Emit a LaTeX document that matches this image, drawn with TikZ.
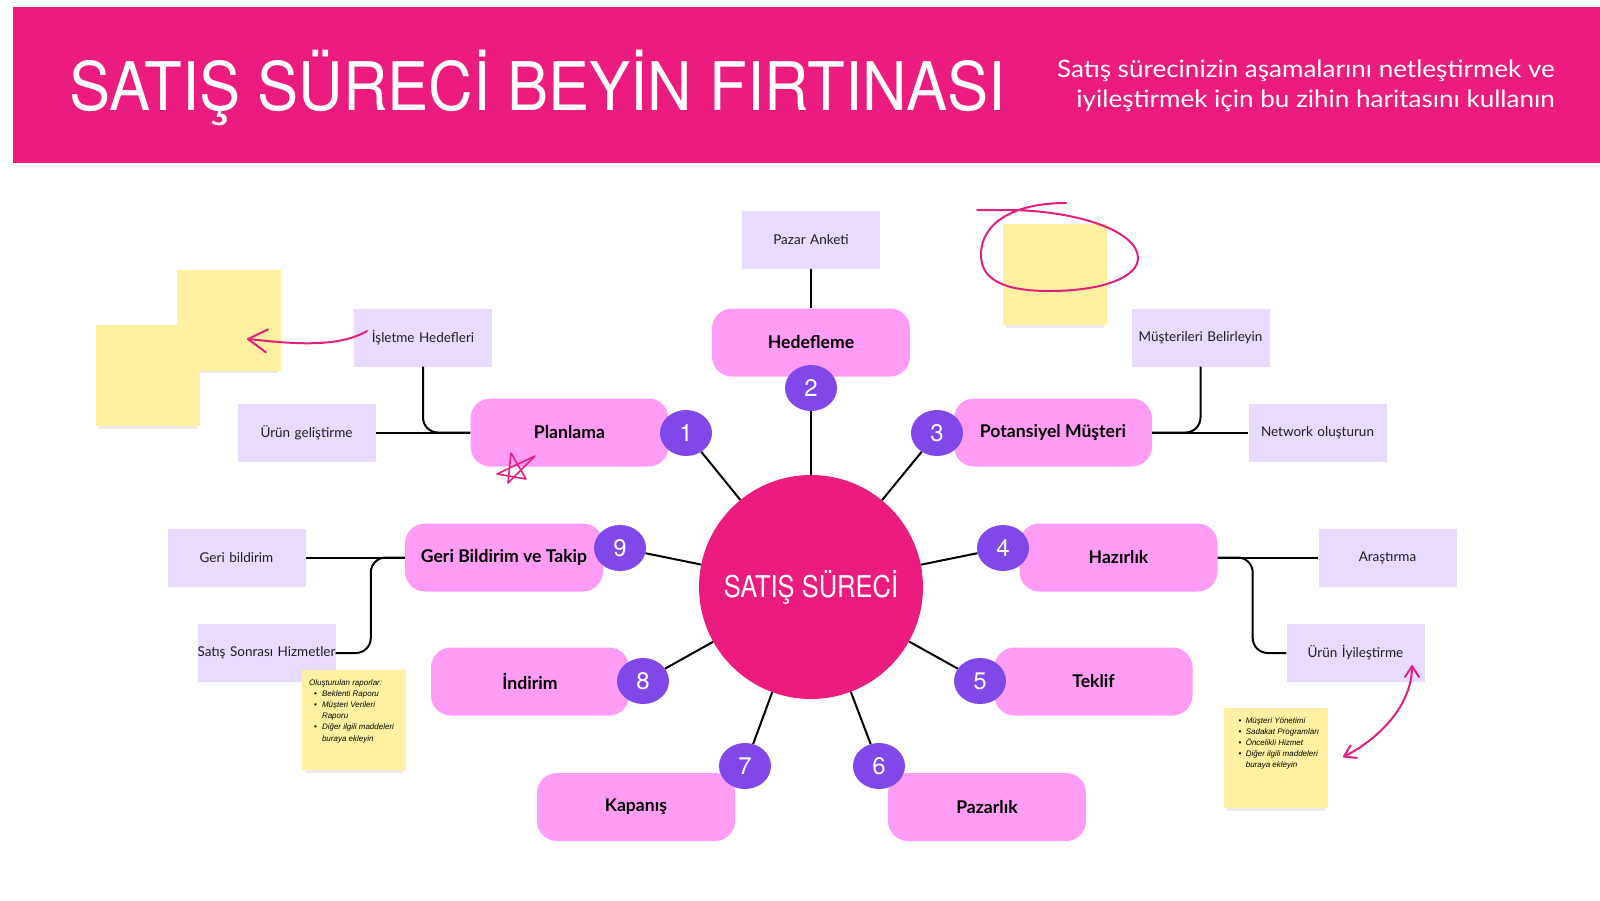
\documentclass[tikz,border=0pt]{standalone}
\usepackage{fontspec}
\setmainfont{Lato}
\newfontfamily\techfont{TeX Gyre Heros}
\newfontfamily\notefont{Liberation Sans}
\usetikzlibrary{shapes.geometric,arrows.meta,calc}
\definecolor{bannerpink}{RGB}{236,28,127}
\definecolor{stagepink}{RGB}{255,156,245}
\definecolor{numpurple}{RGB}{128,72,232}
\definecolor{lavbox}{RGB}{233,219,255}
\definecolor{stickyyellow}{RGB}{255,241,161}
\definecolor{scrib}{RGB}{226,32,128}
\definecolor{textdark}{RGB}{30,30,35}
\definecolor{shadowgray}{RGB}{236,236,236}
\begin{document}
\begin{tikzpicture}[x=1pt,y=-1pt,
  stagebox/.style={rectangle, rounded corners=20pt, fill=stagepink, minimum width=198pt, minimum height=68pt, inner sep=0, font=\bfseries\fontsize{17.6}{20}\selectfont, text=black},
  numbub/.style={ellipse, fill=numpurple, minimum width=52pt, minimum height=46pt, inner sep=0, text=white, font=\techfont\fontsize{24}{24}\selectfont},
  subbox/.style={rectangle, fill=lavbox, minimum width=138pt, minimum height=58pt, text width=138pt, align=center, inner sep=0, font=\fontsize{13.5}{16}\selectfont, text=textdark},
  conn/.style={draw=black, line width=2pt},
  branch/.style={conn, rounded corners=15pt},
  sticky/.style={fill=stickyyellow, inner sep=0, minimum width=104pt, minimum height=101pt},
  scribble/.style={draw=scrib, line width=2pt, line cap=round, line join=round},
  notetext/.style={anchor=north west, inner sep=0, align=left, text=black, font=\notefont\itshape\fontsize{8}{11.2}\selectfont}
]
\useasboundingbox (0,0) rectangle (1600,900);
\fill[white] (0,0) rectangle (1600,900);

% banner
\fill[bannerpink] (13,7) rectangle (1600,163);
\node[anchor=base west, inner sep=0, text=white, font=\techfont\fontsize{67}{67}\selectfont] (title) at (69,110) {\scalebox{0.92}[1]{SATIŞ SÜRECİ BEYİN FIRTINASI}};
\node[anchor=base east, inner sep=0, text=white, font=\fontsize{24}{28}\selectfont] (subtitle1) at (1555,77) {\scalebox{1.085}[1]{Satış sürecinizin aşamalarını netleştirmek ve}};
\node[anchor=base east, inner sep=0, text=white, font=\fontsize{24}{28}\selectfont] (subtitle2) at (1555,107) {\scalebox{1.085}[1]{iyileştirmek için bu zihin haritasını kullanın}};

% sticky notes (top)
\fill[shadowgray] (180,370) rectangle (278,373);
\node[sticky] (stickyA) at (229,320.5) {};
\fill[shadowgray] (99,426) rectangle (197,429);
\node[sticky] (stickyB) at (148,375.5) {};
\fill[shadowgray] (1006,325) rectangle (1104,328);
\node[sticky] (stickyC) at (1055,274.5) {};

% center
\node[circle, fill=bannerpink, minimum size=224pt, inner sep=0, text=white, font=\techfont\fontsize{30}{30}\selectfont] (center) at (811,587) {\scalebox{0.85}[1]{SATIŞ SÜRECİ}};

% stage boxes
\node[stagebox] (planlama) at (569.5,432.5) {Planlama};
\node[stagebox] (hedef) at (811,342.5) {Hedefleme};
\node[stagebox] (potansiyel) at (1053,432.5) {Potansiyel Müşteri};
\node[stagebox] (hazirlik) at (1118.5,557.5) {Hazırlık};
\node[stagebox] (teklif) at (1093.5,681.5) {Teklif};
\node[stagebox] (pazarlik) at (987,807) {Pazarlık};
\node[stagebox] (kapanis) at (636,807) {Kapanış};
\node[stagebox] (indirim) at (530,681.5) {İndirim};
\node[stagebox] (geri) at (504,557.5) {Geri Bildirim ve Takip};

% number bubbles
\node[numbub] (n1) at (686,433) {1};
\node[numbub] (n2) at (811,388) {2};
\node[numbub] (n3) at (937,433) {3};
\node[numbub] (n4) at (1003,548) {4};
\node[numbub] (n5) at (980,681) {5};
\node[numbub] (n6) at (879,766) {6};
\node[numbub] (n7) at (745,766) {7};
\node[numbub] (n8) at (643,681) {8};
\node[numbub] (n9) at (620,548) {9};

% sub boxes
\node[subbox] (pazar) at (811,240) {Pazar Anketi};
\node[subbox] (isletme) at (423,337.5) {İşletme Hedefleri};
\node[subbox] (urungel) at (306.5,432.5) {Ürün geliştirme};
\node[subbox] (musbel) at (1200.5,337.5) {Müşterileri Belirleyin};
\node[subbox] (network) at (1317.5,432.5) {Network oluşturun};
\node[subbox] (arastirma) at (1387.5,557.5) {Araştırma};
\node[subbox] (uriy) at (1355.5,653) {Ürün İyileştirme};
\node[subbox] (geribil) at (236.5,557.5) {Geri bildirim};
\node[subbox] (satis) at (266.5,653) {\mbox{Satış Sonrası Hizmetler}};

% notes with text (on top of the boxes)
\fill[shadowgray] (305,770) rectangle (403,773);
\node[sticky, minimum height=100pt] (noteL) at (354,720) {};
\fill[shadowgray] (1227,808) rectangle (1325,811);
\node[sticky, minimum height=100pt] (noteR) at (1276,758) {};

\node[notetext] (noteLtext) at (309,679) {Oluşturulan raporlar:\\
\hspace*{5pt}\textbullet\hspace{5pt}Beklenti Raporu\\
\hspace*{5pt}\textbullet\hspace{5pt}Müşteri Verileri\\
\hspace*{12.8pt}Raporu\\
\hspace*{5pt}\textbullet\hspace{5pt}Diğer ilgili maddeleri\\
\hspace*{12.8pt}buraya ekleyin};
\node[notetext] (noteRtext) at (1238.5,717) {\textbullet\hspace{4.3pt}Müşteri Yönetimi\\
\textbullet\hspace{4.3pt}Sadakat Programları\\
\textbullet\hspace{4.3pt}Öncelikli Hizmet\\
\textbullet\hspace{4.3pt}Diğer ilgili maddeleri\\
\hspace*{7.1pt}buraya ekleyin};

% radial connectors
\foreach \n in {n1,n2,n3,n4,n5,n6,n7,n8,n9}
  \draw[conn] (center) -- (\n);

% branch connectors
\draw[conn] (pazar) -- (hedef);
\draw[branch] (isletme.south) |- (planlama.west);
\draw[conn] (urungel.east) -- (planlama.west);
\draw[branch] (musbel.south) |- (potansiyel.east);
\draw[conn] (potansiyel.east) -- (network.west);
\draw[conn] (hazirlik.east) -- (arastirma.west);
\draw[branch] (hazirlik.east) -- ++(35,0) |- (uriy.west);
\draw[conn] (geri.west) -- (geribil.east);
\draw[branch] (geri.west) -- ++(-34,0) |- (satis.east);

% hand-drawn marks
\coordinate (arrowstart) at (367,331);
\coordinate (arrowtip) at (247,339);
\draw[scribble, -{Straight Barb[length=19pt,width=23pt,round]}] (arrowstart) .. controls (335,350) and (280,342) .. (arrowtip);

\coordinate (noteRtip) at (1343,757);
\coordinate (uriytip) at (1412,665);
\draw[scribble, {Straight Barb[length=11pt,width=14pt,round]}-{Straight Barb[length=11pt,width=14pt,round]}] (noteRtip) .. controls (1379,739) and (1412,705) .. (uriytip);

\draw[scribble] (1066,203) .. controls (1015,203) and (981,222) .. (981,255) .. controls (981,285) and (1015,291) .. (1050,291) .. controls (1100,291) and (1138,278) .. (1138,258) .. controls (1138,232) and (1080,211) .. (1010,210) -- (977,210);

\draw[scribble, line width=1.6pt] (511,453) -- (526,479) -- (497,474) -- (535,456) -- (508,483) -- cycle;
\end{tikzpicture}
\end{document}
